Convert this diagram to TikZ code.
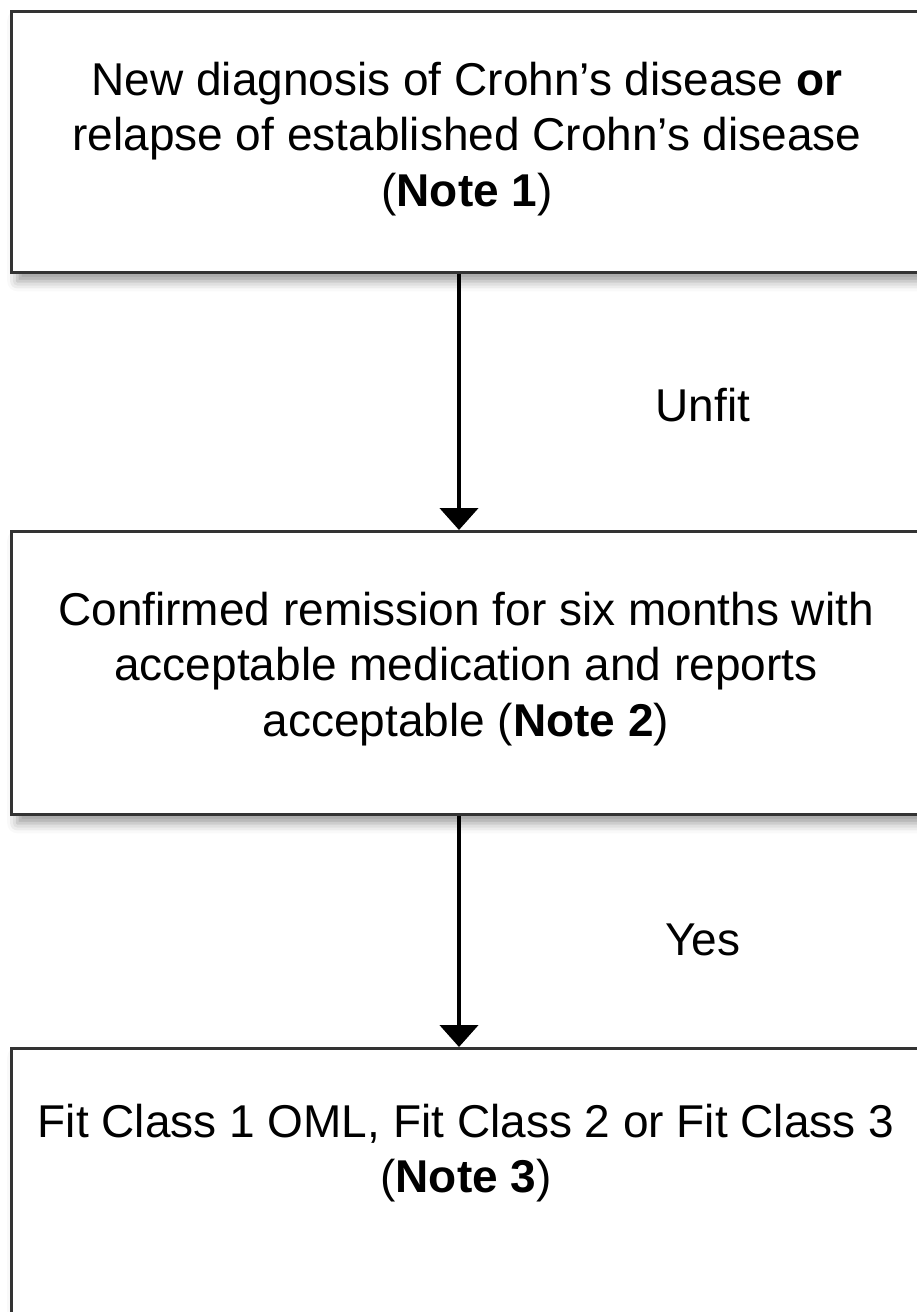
\documentclass[tikz,border=0pt]{standalone}
\usepackage{fontspec}
\setmainfont{Liberation Sans}
\usetikzlibrary{arrows.meta,shadows.blur}
\begin{document}
\begin{tikzpicture}[x=1pt,y=-1pt,
  box/.style={draw=black!80,line width=2.5pt,fill=white,rectangle,inner sep=0pt,
    blur shadow={shadow xshift=6pt,shadow yshift=-9pt,shadow blur radius=10pt,shadow opacity=40}},
  txt/.style={align=center,font=\fontsize{46}{55.5}\selectfont,inner sep=0pt},
  arr/.style={line width=4.5pt,-{Triangle[width=38pt,length=22pt]}},
  lab/.style={font=\fontsize{46}{55.5}\selectfont,inner sep=0pt}]
\useasboundingbox (0,0) rectangle (917,1312);
\clip (0,0) rectangle (917,1312);
\coordinate (ax) at (459,0);
\node[box,minimum width=925pt,minimum height=261pt,anchor=north west] (b1) at (10,10) {};
\node[txt] (t1) at (467,139) {New diagnosis of Crohn’s disease \textbf{or}\\relapse of established Crohn’s disease\\(\textbf{Note 1})};
\node[box,minimum width=925pt,minimum height=283pt,anchor=north west] (b2) at (10,530) {};
\node[txt] (t2) at (466,669) {Confirmed remission for six months with\\acceptable medication and reports\\acceptable (\textbf{Note 2})};
\node[box,minimum width=925pt,minimum height=300pt,anchor=north west] (b3) at (10,1047) {};
\node[txt] (t3) at (466,1153) {Fit Class 1 OML, Fit Class 2 or Fit Class 3\\(\textbf{Note 3})};
\draw[arr] (b1.south -| ax) -- (b2.north -| ax);
\draw[arr] (b2.south -| ax) -- (b3.north -| ax);
\node[lab] (l1) at (703,405) {Unfit};
\node[lab] (l2) at (703,940) {Yes};
\end{tikzpicture}
\end{document}
